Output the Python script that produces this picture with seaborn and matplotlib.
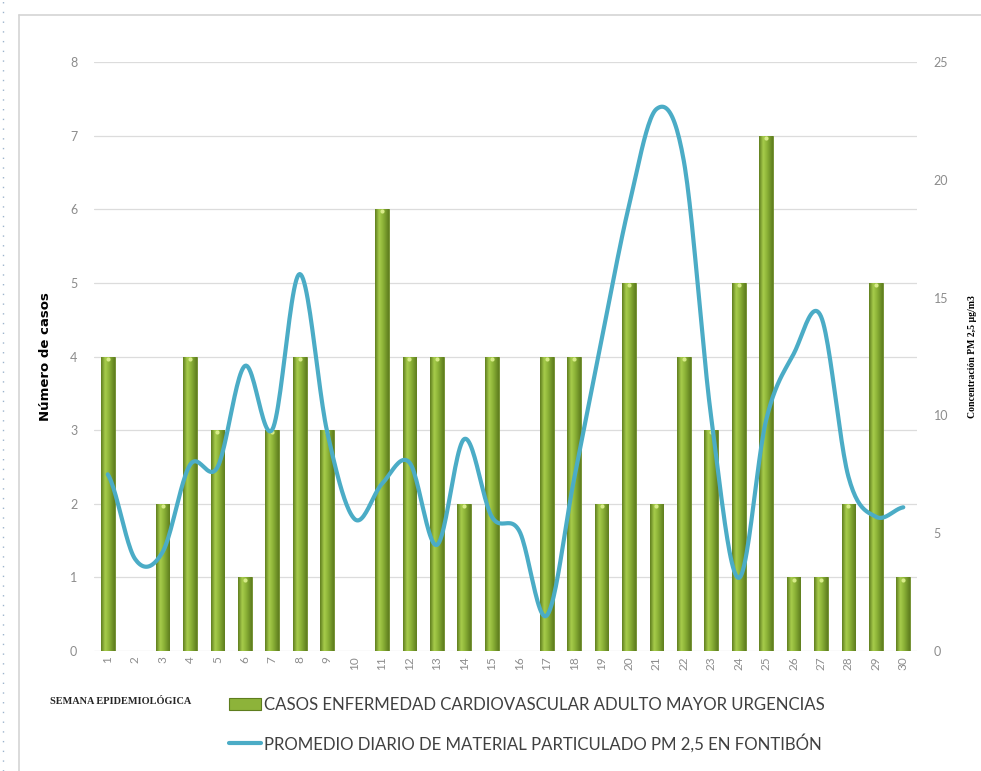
import numpy as np
import pandas as pd
import matplotlib
matplotlib.use("Agg")
import matplotlib.pyplot as plt
from matplotlib.colors import LinearSegmentedColormap
from matplotlib.patches import Patch
from matplotlib.lines import Line2D
import seaborn as sns

# Semana epidemiológica (1-30)
semanas = [str(i) for i in range(1, 31)]
# Casos de enfermedad cardiovascular, adulto mayor, urgencias
casos = [4, 0, 2, 4, 3, 1, 3, 4, 3, 0, 6, 4, 4, 2, 4, 0, 4, 4, 2, 5,
         2, 4, 3, 5, 7, 1, 1, 2, 5, 1]
# Promedio diario de PM 2,5 en Fontibón (µg/m3)
pm25 = [7.5, 3.9, 4.2, 7.9, 7.8, 12.1, 9.4, 16.0, 9.3, 5.6, 7.1, 8.0, 4.5,
        9.0, 5.7, 5.1, 1.5, 7.3, 13.2, 18.9, 23.0, 20.8, 9.9, 3.1, 9.8,
        12.6, 14.2, 7.4, 5.7, 6.1]

casos_ticks = list(range(0, 9))
pm_ticks = [0, 5, 10, 15, 20, 25]

label_bars = "CASOS ENFERMEDAD CARDIOVASCULAR ADULTO MAYOR URGENCIAS"
label_line = "PROMEDIO DIARIO DE MATERIAL PARTICULADO PM 2,5 EN FONTIBÓN"

GREEN = "#8DB33A"
TEAL = "#4BACC6"
GRAY = "#8C8C8C"


def smooth_curve(y, samples=24):
    """Catmull-Rom spline through the points (spreadsheet-style smoothed line)."""
    y = np.asarray(y, float)
    x = np.arange(len(y), dtype=float)
    px = np.concatenate([[2 * x[0] - x[1]], x, [2 * x[-1] - x[-2]]])
    py = np.concatenate([[y[0]], y, [y[-1]]])
    xs, ys = [], []
    t = np.linspace(0, 1, samples, endpoint=False)
    for i in range(1, len(px) - 2):
        for arr, out in ((px, xs), (py, ys)):
            p0, p1, p2, p3 = arr[i - 1], arr[i], arr[i + 1], arr[i + 2]
            out.append(0.5 * ((2 * p1) + (-p0 + p2) * t
                              + (2 * p0 - 5 * p1 + 4 * p2 - p3) * t ** 2
                              + (-p0 + 3 * p1 - 3 * p2 + p3) * t ** 3))
    xs.append([x[-1]])
    ys.append([y[-1]])
    return np.concatenate(xs), np.concatenate(ys)


sns.set_theme(style="white")
plt.rcParams["font.family"] = ["Lato", "DejaVu Sans"]

fig = plt.figure(figsize=(9.81, 7.71), dpi=100)
ax = fig.add_axes([94 / 981, 1 - 651 / 771, (917 - 94) / 981, (651 - 62) / 771])

df_bars = pd.DataFrame({"semana": semanas, "casos": casos})
sns.barplot(data=df_bars, x="semana", y="casos", order=semanas, color=GREEN,
            width=0.5, ax=ax, zorder=2, edgecolor="#6B8A26", linewidth=0.6)

# cylinder-like shading on every bar
shade = LinearSegmentedColormap.from_list(
    "shade", [(0, "#5E7D1E"), (0.3, "#A8CD4C"), (0.55, "#8FB639"), (1, "#5E7D1E")])
grad = np.linspace(0, 1, 64).reshape(1, -1)
for p in list(ax.patches):
    h = p.get_height()
    if h <= 0:
        continue
    x0, w = p.get_x(), p.get_width()
    im = ax.imshow(grad, cmap=shade, aspect="auto", extent=(x0, x0 + w, 0, h),
                   zorder=2.1, interpolation="bicubic")
    im.set_clip_path(p)
    ax.plot([x0 + w * 0.5], [h - 0.03], marker="o", ms=3, color="#D8EC8A",
            mec="none", zorder=2.2)

ax.set_xlim(-0.5, 29.5)
ax.set_ylim(0, 8)
ax.set_yticks(casos_ticks)
ax.set_yticklabels([str(v) for v in casos_ticks])
ax.set_xticks(range(len(semanas)))
ax.set_xticklabels(semanas, rotation=90)
ax.tick_params(axis="both", length=0, colors=GRAY, labelsize=9)
ax.tick_params(axis="y", pad=12)
ax.tick_params(axis="x", pad=4, labelsize=8.5)
ax.yaxis.grid(True, color="#DCDCDC", linewidth=0.9)
ax.set_axisbelow(True)
for s in ax.spines.values():
    s.set_visible(False)
ax.set_xlabel("")
ax.set_ylabel("Número de casos", fontsize=9.5, fontweight="bold", color="black",
              labelpad=13, family=["DejaVu Sans"])

ax2 = ax.twinx()
xs, ys = smooth_curve(pm25)
df_line = pd.DataFrame({"x": xs, "pm": ys})
sns.lineplot(data=df_line, x="x", y="pm", ax=ax2, color=TEAL, linewidth=3.0,
             sort=False, estimator=None, zorder=3)
ax2.set_ylim(0, 25)
ax2.set_xlim(-0.5, 29.5)
ax2.set_yticks(pm_ticks)
ax2.set_yticklabels([str(v) for v in pm_ticks])
ax2.tick_params(axis="y", length=0, colors=GRAY, labelsize=9, pad=12)
for s in ax2.spines.values():
    s.set_visible(False)
ax2.set_xlabel("")
ax2.set_ylabel("Concentración PM 2,5 µg/m3", fontsize=7, fontweight="bold",
               color="black", family=["Liberation Serif"], labelpad=14)

fig.text(50 / 981, 1 - 702 / 771, "SEMANA EPIDEMIOLÓGICA", fontsize=7.4,
         fontweight="bold", family=["Liberation Serif"], va="center", ha="left")

handles = [Patch(facecolor=GREEN, edgecolor="#5E7D1E", linewidth=0.8),
           Line2D([0], [0], color=TEAL, linewidth=3)]
fig.legend(handles, [label_bars, label_line], loc="upper left",
           bbox_to_anchor=(229 / 981, 1 - 697 / 771), frameon=False,
           fontsize=12.1, labelcolor="#404040", labelspacing=1.22,
           handlelength=1.9, handletextpad=0.2, borderaxespad=0,
           borderpad=0)

# chart frame and page guide
fig.add_artist(Line2D([19 / 981, 19 / 981], [0, 1 - 15 / 771],
                      transform=fig.transFigure, color="#D4D4D4", lw=1.2))
fig.add_artist(Line2D([19 / 981, 1], [1 - 15 / 771, 1 - 15 / 771],
                      transform=fig.transFigure, color="#D4D4D4", lw=1.2))
fig.add_artist(Line2D([3 / 981, 3 / 981], [0, 1],
                      transform=fig.transFigure, color="#9DB4CC", lw=1,
                      linestyle=(0, (1, 6))))

fig.savefig("out.png", dpi=100, facecolor="white")
